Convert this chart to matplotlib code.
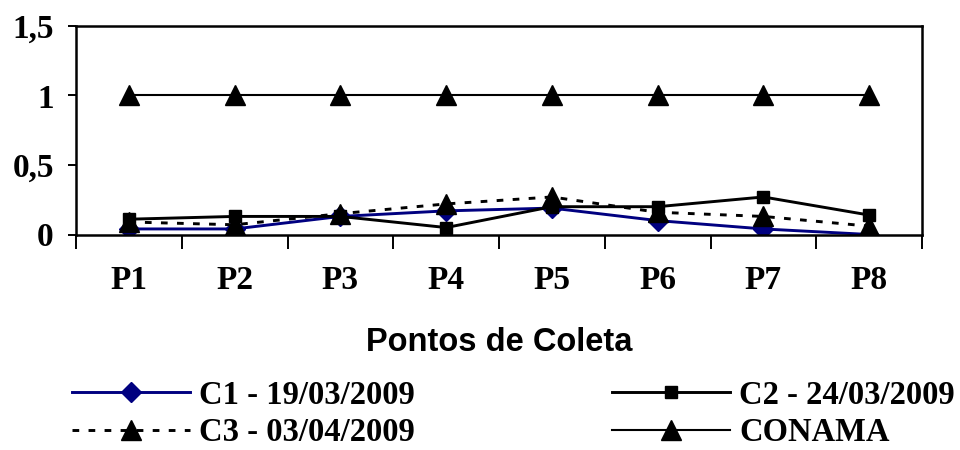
import matplotlib
matplotlib.use("Agg")
import matplotlib.pyplot as plt

categories = ["P1", "P2", "P3", "P4", "P5", "P6", "P7", "P8"]
c1 = [0.04, 0.04, 0.13, 0.17, 0.19, 0.10, 0.04, 0.00]
c2 = [0.11, 0.13, 0.13, 0.05, 0.20, 0.20, 0.27, 0.14]
c3 = [0.09, 0.07, 0.15, 0.22, 0.27, 0.16, 0.13, 0.06]
conama = [1, 1, 1, 1, 1, 1, 1, 1]
labels = ["C1 - 19/03/2009", "C2 - 24/03/2009", "C3 - 03/04/2009", "CONAMA"]
yticks = [0, 0.5, 1, 1.5]
yticklabels = ["0", "0,5", "1", "1,5"]

serif = "Liberation Serif"
sans = "Liberation Sans"
fs = 24
lw = 2.1

fig = plt.figure(figsize=(9.6, 4.5), dpi=100)
ax = fig.add_axes([76/960, 1-234.5/450, (922-76)/960, (234.5-26)/450])

x = list(range(1, len(categories)+1))
l1, = ax.plot(x, c1, color="#000080", lw=lw, marker="D", ms=10, mfc="#000080", mec="#000080")
l2, = ax.plot(x, c2, color="black", lw=lw, marker="s", ms=8, mfc="black", mec="black")
l3, = ax.plot(x, c3, color="black", lw=lw, linestyle=(0, (2.3, 3.2)), marker="^", ms=15, mfc="black", mec="black")
l4, = ax.plot(x, conama, color="black", lw=1.5, marker="^", ms=15, mfc="black", mec="black")

ax.set_xlim(0.5, len(categories)+0.5)
ax.set_ylim(0, 1.5)
ax.set_yticks(yticks)
ax.set_yticklabels(yticklabels, fontfamily=serif, fontweight="bold", fontsize=fs)
ax.set_xticks([i + 0.5 for i in range(0, len(categories)+1)])
ax.set_xticklabels([])
ax.set_xticks(x, minor=True)
ax.set_xticklabels(categories, minor=True, fontfamily=serif, fontweight="bold", fontsize=fs)
ax.tick_params(axis="x", which="major", length=10, width=1.4, direction="out")
ax.tick_params(axis="x", which="minor", length=0, pad=22)
ax.tick_params(axis="y", length=6, width=1.4, direction="out", pad=10)
for s in ax.spines.values():
    s.set_linewidth(1.8)
    s.set_color("black")

ax.set_xlabel("Pontos de Coleta", fontfamily=sans, fontweight="bold", fontsize=23.5, labelpad=22)

common = dict(loc="center left", frameon=False, borderpad=0, borderaxespad=0,
              handlelength=3.6, handletextpad=0.3, labelspacing=0.2, numpoints=1,
              prop={"family": serif, "weight": "bold", "size": 23.5})
fig.legend([l1, l3], [labels[0], labels[2]], bbox_to_anchor=(72/960, 1-414/450), **common)
fig.legend([l2, l4], [labels[1], labels[3]], bbox_to_anchor=(612/960, 1-414/450), **common)

fig.savefig("out.png", dpi=100)
